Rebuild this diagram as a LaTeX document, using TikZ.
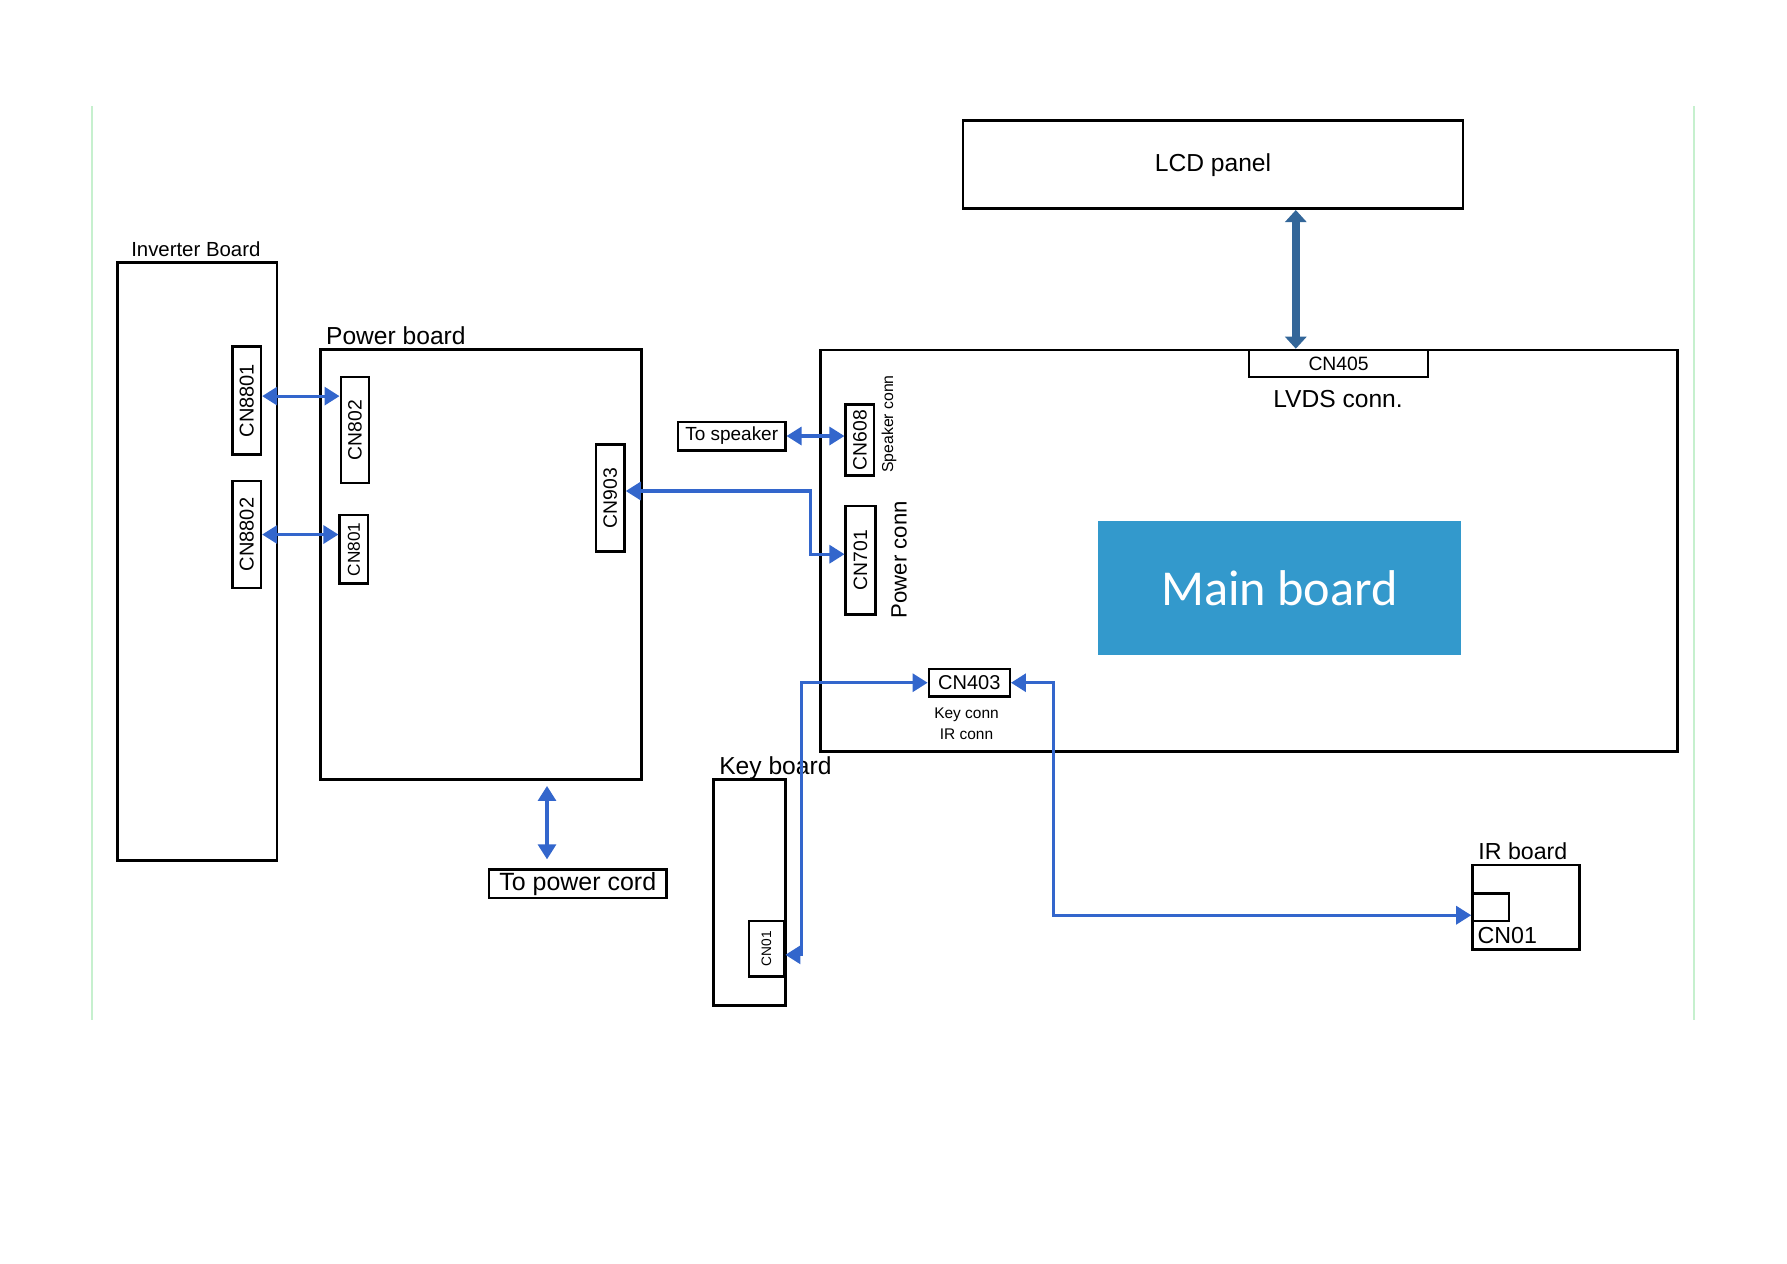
\documentclass[tikz,border=0pt]{standalone}
\usepackage{fontspec}
\setmainfont{Liberation Sans}
\newfontfamily\calfont{Carlito}
\usepackage{graphicx}
\usetikzlibrary{positioning}
\usetikzlibrary{arrows.meta}

\definecolor{linkblue}{HTML}{3366CC}
\definecolor{lvdsblue}{HTML}{336699}
\definecolor{mainblue}{HTML}{3399CC}
\definecolor{edgegreen}{HTML}{C6F0CE}

\begin{document}
\begin{tikzpicture}[
        > = {Triangle[length=1.5mm, width=1.8mm]}, % arrow head style
        board/.style = {draw, line width=0.8pt, inner sep=0pt},
        conn/.style = {draw, line width=0.7pt, inner sep=0pt, font=\fontsize{5.5pt}{6pt}\selectfont},
        title/.style = {inner sep=1pt, text depth=0pt, anchor=south west, font=\fontsize{7pt}{8pt}\selectfont},
        link/.style = {linkblue, line width=0.9pt, <->}
        ]

  \useasboundingbox (0,0) rectangle (17.87,-12.63);

  % page rules
  \draw[edgegreen, line width=0.6pt] (0.923,-1.06) -- (0.923,-10.20);
  \draw[edgegreen, line width=0.6pt] (16.94,-1.06) -- (16.94,-10.20);

  % boards
  \node[board, minimum width=5.00cm, minimum height=0.878cm, font=\fontsize{7pt}{8pt}\selectfont] (lcd) at (12.13,-1.647) {LCD panel};
  \node[board, minimum width=8.57cm, minimum height=4.012cm] (mainbrd) at (12.491,-5.505) {};
  \node[fill=mainblue, text=white, minimum width=3.636cm, minimum height=1.345cm, font=\calfont\fontsize{14.3pt}{16pt}\selectfont] (mainlbl) at (12.793,-5.881) {Main board};
  \node[board, minimum width=3.214cm, minimum height=4.297cm] (power) at (4.810,-5.647) {};
  \node[board, minimum width=1.595cm, minimum height=5.984cm] (inverter) at (1.972,-5.613) {};
  \node[board, minimum width=0.718cm, minimum height=2.256cm] (keybrd) at (7.494,-8.924) {};
  \node[board, minimum width=1.071cm, minimum height=0.844cm] (irbrd) at (15.261,-9.072) {};

  \node[title, font=\fontsize{5.8pt}{7pt}\selectfont] (invlbl) at ([xshift=1.1mm]inverter.north west) {Inverter Board};
  \node[title] (powerlbl) at ([xshift=0.3mm]power.north west) {Power board};
  \node[title] (keylbl) at ([xshift=0.3mm]keybrd.north west) {Key board};
  \node[title, font=\fontsize{6.6pt}{7pt}\selectfont] (irlbl) at ([xshift=0.3mm]irbrd.north west) {IR board};

  % outside ends
  \node[board, line width=0.7pt, minimum width=1.072cm, minimum height=0.285cm, font=\fontsize{5.4pt}{6pt}\selectfont] (spk) at (7.317,-4.36) {To speaker};
  \node[board, line width=0.7pt, minimum width=1.778cm, minimum height=0.285cm, font=\fontsize{7.1pt}{8pt}\selectfont] (cord) at (5.778,-8.838) {To power cord};

  % connectors
  \node[conn, minimum width=1.789cm, minimum height=0.273cm] (cn405) at (13.386,-3.636) {CN405};
  \node[conn, minimum width=0.809cm, minimum height=0.274cm, font=\fontsize{5.7pt}{6pt}\selectfont] (cn403) at (9.693,-6.827) {CN403};
  \node[conn, minimum width=0.285cm, minimum height=0.707cm] (cn608) at (8.599,-4.399) {\rotatebox{90}{CN608}};
  \node[conn, minimum width=0.296cm, minimum height=1.083cm] (cn701) at (8.605,-5.602) {\rotatebox{90}{CN701}};
  \node[conn, minimum width=0.285cm, minimum height=1.060cm] (cn802) at (3.550,-4.302) {\rotatebox{90}{CN802}};
  \node[conn, minimum width=0.285cm, minimum height=0.684cm, font=\fontsize{4.9pt}{5pt}\selectfont] (cn801) at (3.539,-5.493) {\rotatebox{90}{CN801}};
  \node[conn, minimum width=0.285cm, minimum height=1.071cm] (cn903) at (6.103,-4.980) {\rotatebox{90}{CN903}};
  \node[conn, minimum width=0.285cm, minimum height=1.082cm, font=\fontsize{5.7pt}{6pt}\selectfont] (cn8801) at (2.467,-4.006) {\rotatebox{90}{CN8801}};
  \node[conn, minimum width=0.285cm, minimum height=1.072cm, font=\fontsize{5.7pt}{6pt}\selectfont] (cn8802) at (2.467,-5.345) {\rotatebox{90}{CN8802}};
  \node[conn, minimum width=0.353cm, minimum height=0.558cm, font=\fontsize{3.9pt}{4pt}\selectfont] (keycn) at (7.665,-9.488) {\rotatebox{90}{CN01}};
  \node[conn, minimum width=0.365cm, minimum height=0.274cm] (ircn) at (14.907,-9.072) {};
  \node[anchor=north west, inner sep=0.5pt, font=\fontsize{6.6pt}{7pt}\selectfont] (ircnlbl) at ([xshift=0.4mm, yshift=-0.3mm]ircn.south west) {CN01};

  % connector notes
  \node[font=\fontsize{7pt}{8pt}\selectfont] (lvdslbl) at (13.38,-3.989) {LVDS conn.};
  \node[rotate=90, font=\fontsize{4.5pt}{5pt}\selectfont] (spkconn) at (8.890,-4.240) {Speaker conn};
  \node[rotate=90, font=\fontsize{6.3pt}{7pt}\selectfont] (pwrconn) at (8.992,-5.596) {Power conn};
  \node[font=\fontsize{4.4pt}{5pt}\selectfont] (keyconn) at (9.665,-7.150) {Key conn};
  \node[font=\fontsize{4.4pt}{5pt}\selectfont] (irconn) at (9.665,-7.340) {IR conn};

  % bends
  \coordinate (lvdsx) at (12.958,0);
  \coordinate (cordx) at (5.470,0);
  \coordinate (pwrbend) at (8.103,0);
  \coordinate (keybend) at (8.012,0);
  \coordinate (irbend) at (10.531,0);

  \draw[lvdsblue, line width=2.3pt, {Triangle[length=1.2mm, width=2.1mm]}-{Triangle[length=1.2mm, width=2.1mm]}] (lvdsx |- lcd.south) -- (lvdsx |- cn405.north);

  \draw[link] ([yshift=0.45mm]cn8801.east) -- ([yshift=0.45mm]cn8801.east -| cn802.west);
  \draw[link] (cn8802.east) -- (cn8802.east -| cn801.west);
  \draw[link] ([yshift=0.7mm]cn903.east) -- ([yshift=0.7mm]cn903.east -| pwrbend) |- ([yshift=0.6mm]cn701.west);
  \draw[link] (spk.east) -- (spk.east -| cn608.west);
  \draw[link, shorten <=0.5mm, shorten >=0.9mm] (cordx |- power.south) -- (cordx |- cord.north);
  \draw[link] ([yshift=-0.6mm]keycn.east) -- ([yshift=-0.6mm]keycn.east -| keybend) |- (cn403.west);
  \draw[link] (cn403.east) -- (cn403.east -| irbend) |- ([yshift=-0.8mm]ircn.west);

\end{tikzpicture}
\end{document}
